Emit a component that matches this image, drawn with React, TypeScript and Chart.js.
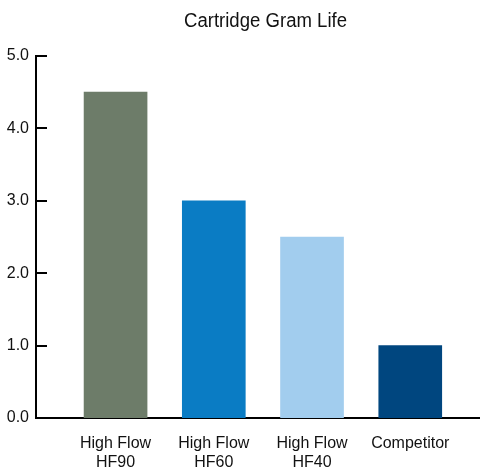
import React, { useEffect, useRef } from "react";
import { Chart, registerables } from "chart.js";

Chart.register(...registerables);

const categories: string[][] = [["High Flow", "HF90"], ["High Flow", "HF60"], ["High Flow", "HF40"], ["Competitor"]];
const values: number[] = [4.5, 3.0, 2.5, 1.0];
const barColors: string[] = ["#6d7c69", "#0a7cc4", "#a2cdee", "#00467f"];
const yTicks: number[] = [0, 1, 2, 3, 4, 5];
const title = "Cartridge Gram Life";

export default function App() {
  const ref = useRef<HTMLCanvasElement | null>(null);
  useEffect(() => {
    document.body.style.margin = "0";
    const canvas = ref.current!;
    const titlePlugin = {
      id: "customTitle",
      afterDraw(chart: any) {
        const ctx = chart.ctx;
        ctx.save();
        ctx.fillStyle = "#111";
        ctx.font = "20px 'Liberation Sans', Arial, sans-serif";
        ctx.textAlign = "center";
        ctx.textBaseline = "alphabetic";
        const w = ctx.measureText(title).width;
        const sx = 163 / w;
        ctx.translate(265.5, 27);
        ctx.scale(sx, 1);
        ctx.fillText(title, 0, 0);
        ctx.restore();
        // inward ticks on y axis
        ctx.save();
        const y = chart.scales.y;
        const left = chart.chartArea.left;
        ctx.strokeStyle = "#000";
        ctx.lineWidth = 2;
        yTicks.forEach((v) => {
          const py = Math.round(y.getPixelForValue(v));
          ctx.beginPath();
          ctx.moveTo(left, py);
          ctx.lineTo(left + 11, py);
          ctx.stroke();
        });
        ctx.restore();
      },
    };
    const chart = new Chart(canvas, {
      type: "bar",
      data: {
        datasets: [
          {
            data: values.map((v, i) => ({ x: i + 1, y: v })),
            backgroundColor: barColors,
            barThickness: 63,
            borderWidth: 0,
          },
        ],
      },
      options: {
        animation: false,
        responsive: false,
        layout: { padding: { top: 56, left: 0, right: 0, bottom: 0 } },
        plugins: { legend: { display: false }, tooltip: { enabled: false }, title: { display: false } },
        scales: {
          x: {
            type: "linear",
            offset: false,
            min: 0.19,
            max: 4.71,
            afterFit(scale: any) {
              scale.height = 50;
            },
            afterBuildTicks(scale: any) {
              scale.ticks = categories.map((_, i) => ({ value: i + 1 }));
            },
            grid: { display: false, drawTicks: false, offset: false },
            border: { display: true, color: "#000", width: 2 },
            ticks: {
              autoSkip: false,
              maxRotation: 0,
              padding: 16,
              color: "#111",
              font: { family: "'Liberation Sans', Arial, sans-serif", size: 16, lineHeight: 1.2 },
              callback: (v: any) => categories[Math.round(Number(v)) - 1] ?? "",
            },
          },
          y: {
            min: 0,
            max: 5,
            afterFit(scale: any) {
              scale.width = 36;
            },
            afterBuildTicks(scale: any) {
              scale.ticks = yTicks.map((v) => ({ value: v }));
            },
            grid: { display: false, drawTicks: false },
            border: { display: true, color: "#000", width: 2 },
            ticks: {
              padding: 7,
              color: "#111",
              font: { family: "'Liberation Sans', Arial, sans-serif", size: 16 },
              callback: (v: any) => Number(v).toFixed(1),
            },
          },
        },
      },
      plugins: [titlePlugin],
    } as any);
    return () => chart.destroy();
  }, []);
  return (
    <div style={{ width: 480, height: 468 }}>
      <canvas ref={ref} width={480} height={468} style={{ display: "block" }} />
    </div>
  );
}
